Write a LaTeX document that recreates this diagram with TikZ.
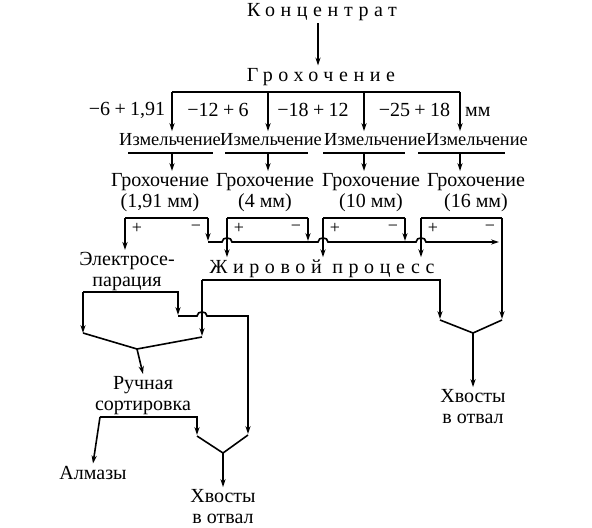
\documentclass[tikz,border=0pt]{standalone}
\usepackage{fontspec}
\setmainfont{Liberation Serif}
\newfontfamily\wide[LetterSpace=28]{Liberation Serif}
\usetikzlibrary{arrows.meta}

\begin{document}
\begin{tikzpicture}[x=0.5pt,y=-0.5pt,>={Stealth[length=4pt,width=2.6pt]},line width=0.8pt,
   every node/.style={font=\fontsize{10}{10.5}\selectfont,inner sep=1pt,align=center},
   mill/.style={font=\fontsize{9.2}{9.2}\selectfont},
   sign/.style={font=\fontsize{9}{9}\selectfont},
   hop/.style={to path={-- ([xshift=-2.5pt]\tikztotarget) to[out=90,in=90,looseness=1.4] ([xshift=2.5pt]\tikztotarget)}}]
   \useasboundingbox (0,0) rectangle (592,528);
   \def\sp{\hspace{0.22em}}

   \node (konc) at (322,12)  {\wide Концентрат};
   \node (groh) at (321,77)  {\wide Грохочение};
   \node (f1)  [anchor=east] at (168,110) {−6\sp+\sp1,91};
   \node (f2)  at (218,110) {−12\sp+\sp6};
   \node (f3)  at (313,110) {−18\sp+\sp12};
   \node (f4)  [anchor=west] at (376,110) {−25\sp+\sp18\hspace{0.75em}мм};
   \node (im1) [mill] at (170,140) {Измельчение};
   \node (im2) [mill] at (271,140) {Измельчение};
   \node (im3) [mill] at (375,140) {Измельчение};
   \node (im4) [mill] at (477,140) {Измельчение};
   \node (gr1) at (160,193) {Грохочение\\(1,91 мм)};
   \node (gr2) at (265,193) {Грохочение\\(4 мм)};
   \node (gr3) at (371,193) {Грохочение\\(10 мм)};
   \node (gr4) at (476,193) {Грохочение\\(16 мм)};
   \node (elec) at (127,272) {Электросе-\\парация};
   \node (zhir) at (322,269) {\wide Жировой процесс};
   \node (sort) at (143,396) {Ручная\\сортировка};
   \node (alm)  at (93,473)  {Алмазы};
   \node (tl1)  at (473,407) {Хвосты\\в отвал};
   \node (tl2)  at (223,507) {Хвосты\\в отвал};

   \foreach \n/\x/\l/\r in {1/172/128/213,2/268/225/308,3/364/323/405,4/460/418/505}{
      \coordinate (b\n) at (\x,92);
      \coordinate (u\n) at (\x,153);
      \draw[->] (b\n) -- (b\n |- im\n.north);
      \draw (\l,153) -- (\r,153);
      \draw[->] (u\n) -- (u\n |- gr\n.north);
   }
   \draw (b1) -- (b4);
   \draw[->] (konc.south -| 318,0) -- (groh.north -| 318,0);

   % screens: + to the left, - to the right
   \foreach \n/\l/\r in {1/125/208,2/227/308,3/323/405,4/421/502}{
      \coordinate (sl\n) at (\l,218);
      \coordinate (sr\n) at (\r,218);
      \draw (sl\n) -- (sr\n);
      \node[sign] at (\l+12,228) {+};
      \node[sign] at (\r-12,228) {−};
   }
   \draw[->] (sl1) -- (sl1 |- elec.north);
   \foreach \n in {2,3,4} \draw[->] (sl\n) -- (sl\n |- zhir.north);
   \foreach \n in {1,2,3} \draw[->] (sr\n) -- ++(0,23);
   \coordinate (c0) at (208,242);
   \draw[->] (c0) to[hop] (sl2 |- c0) to[hop] (sl3 |- c0) to[hop] (sl4 |- c0) -- (499,242);

   % concentrates
   \coordinate (vl) at (137,349);
   \coordinate (vr) at (473,333);
   \coordinate (vb) at (223,453);
   \draw[->] (83,292) -- (178,292) -- (178,315);
   \draw[->] (83,292) -- (83,333);
   \draw[->] (202,280) -- (440,280) -- (440,319);
   \draw[->] (202,280) -- (202,336);
   \draw[->] (sr4) -- (502,319);
   \draw (83,333) -- (vl) -- (202,337);
   \draw (440,320) -- (vr) -- (502,320);
   \draw[->] (vl) -- (sort.north);
   \draw[->] (vr) -- (tl1.north);
   \draw[->] (178,316) to[hop] (202,316) -- (248,316) -- (248,434);
   \draw[->] (100,417) -- (197,417) -- (197,435);
   \draw[->] (100,417) -- (alm.north);
   \draw (197,436) -- (vb) -- (248,435);
   \draw[->] (vb) -- (tl2.north);
\end{tikzpicture}
\end{document}
